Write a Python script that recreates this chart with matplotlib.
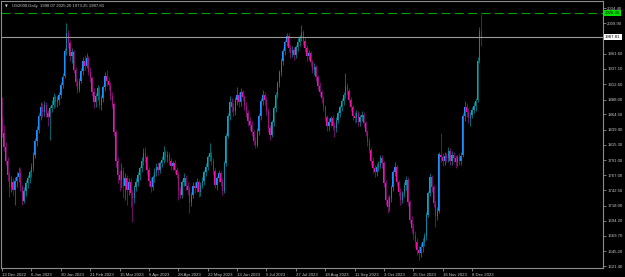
import matplotlib
matplotlib.use("Agg")
import matplotlib.pyplot as plt
from matplotlib.transforms import blended_transform_factory
import numpy as np

# daily US2000 candles, 13 Dec 2022 .. 15 Dec 2023
opens = [
    1860, 1834, 1812, 1790, 1768, 1748, 1756, 1744, 1758, 1764,
    1770, 1748, 1726, 1742, 1754, 1762, 1772, 1780, 1800, 1822,
    1840, 1862, 1876, 1868, 1880, 1866, 1860, 1874, 1880, 1892,
    1884, 1888, 1896, 1912, 1926, 1966, 1994, 1978, 1958, 1964,
    1936, 1916, 1904, 1918, 1934, 1950, 1942, 1954, 1932, 1922,
    1900, 1884, 1894, 1906, 1880, 1890, 1908, 1926, 1918, 1912,
    1894, 1880, 1836, 1790, 1768, 1760, 1774, 1750, 1762, 1744,
    1756, 1738, 1730, 1748, 1756, 1768, 1778, 1790, 1802, 1796,
    1776, 1758, 1748, 1764, 1772, 1780, 1776, 1786, 1792, 1804,
    1796, 1800, 1790, 1782, 1786, 1776, 1768, 1742, 1736, 1756,
    1762, 1750, 1744, 1724, 1736, 1750, 1746, 1756, 1740, 1752,
    1758, 1772, 1780, 1796, 1802, 1790, 1774, 1752, 1762, 1770,
    1756, 1742, 1786, 1830, 1862, 1884, 1876, 1870, 1888, 1896,
    1884, 1900, 1892, 1878, 1866, 1854, 1848, 1836, 1822, 1816,
    1838, 1862, 1886, 1896, 1888, 1870, 1842, 1832, 1852, 1874,
    1896, 1914, 1932, 1950, 1966, 1980, 1990, 1970, 1962, 1968,
    1960, 1972, 1980, 1988, 1996, 1982, 1970, 1958, 1962, 1948,
    1936, 1940, 1924, 1910, 1900, 1890, 1876, 1860, 1846, 1852,
    1858, 1846, 1842, 1856, 1866, 1876, 1886, 1896, 1910, 1902,
    1888, 1876, 1862, 1858, 1866, 1852, 1860, 1864, 1850, 1836,
    1820, 1808, 1790, 1778, 1772, 1780, 1784, 1794, 1786, 1754,
    1728, 1716, 1730, 1748, 1772, 1780, 1756, 1740, 1728, 1738,
    1752, 1760, 1724, 1696, 1682, 1672, 1660, 1648, 1642, 1652,
    1660, 1670, 1704, 1738, 1764, 1748, 1722, 1702, 1710, 1800,
    1796, 1790, 1798, 1794, 1806, 1790, 1800, 1794, 1788, 1796,
    1790, 1800, 1862, 1876, 1868, 1858, 1864, 1872, 1878, 1888,
    1950, 1998.07,
]
highs = [
    1892, 1848, 1820, 1796, 1774, 1766, 1762, 1764, 1772, 1780,
    1778, 1752, 1748, 1760, 1768, 1776, 1786, 1804, 1826, 1846,
    1866, 1884, 1882, 1886, 1884, 1872, 1878, 1888, 1898, 1896,
    1894, 1900, 1916, 1930, 1970, 2010, 2000, 1984, 1970, 1968,
    1940, 1922, 1922, 1938, 1956, 1960, 1962, 1958, 1940, 1926,
    1906, 1898, 1912, 1910, 1896, 1912, 1932, 1935, 1924, 1916,
    1900, 1884, 1840, 1796, 1776, 1786, 1780, 1770, 1768, 1762,
    1762, 1744, 1752, 1762, 1772, 1782, 1796, 1810, 1812, 1800,
    1780, 1764, 1768, 1778, 1786, 1788, 1790, 1798, 1814, 1808,
    1806, 1804, 1794, 1790, 1792, 1780, 1772, 1748, 1760, 1770,
    1768, 1756, 1750, 1740, 1756, 1756, 1762, 1760, 1756, 1764,
    1776, 1786, 1800, 1818, 1806, 1794, 1778, 1766, 1776, 1774,
    1762, 1790, 1834, 1866, 1894, 1890, 1882, 1892, 1908, 1900,
    1906, 1904, 1896, 1884, 1872, 1860, 1854, 1840, 1828, 1842,
    1866, 1890, 1903, 1900, 1892, 1874, 1848, 1856, 1878, 1900,
    1918, 1936, 1954, 1970, 1984, 1994, 1994, 1976, 1974, 1972,
    1976, 1986, 1992, 2007, 2000, 1988, 1976, 1968, 1966, 1952,
    1946, 1944, 1928, 1916, 1904, 1894, 1880, 1864, 1858, 1862,
    1864, 1852, 1860, 1870, 1880, 1890, 1900, 1930, 1914, 1906,
    1892, 1880, 1868, 1872, 1870, 1864, 1870, 1868, 1854, 1840,
    1826, 1812, 1796, 1784, 1786, 1790, 1800, 1800, 1790, 1760,
    1734, 1736, 1752, 1776, 1788, 1784, 1760, 1746, 1742, 1756,
    1766, 1764, 1728, 1702, 1690, 1678, 1666, 1654, 1658, 1666,
    1674, 1708, 1742, 1770, 1768, 1752, 1728, 1716, 1804, 1834,
    1802, 1804, 1802, 1812, 1810, 1806, 1804, 1800, 1800, 1802,
    1804, 1866, 1886, 1882, 1874, 1868, 1876, 1884, 1890, 1956,
    2004, 2025.20,
]
lows = [
    1828, 1806, 1784, 1758, 1732, 1740, 1736, 1719, 1748, 1756,
    1742, 1720, 1722, 1734, 1746, 1754, 1764, 1774, 1794, 1814,
    1834, 1856, 1860, 1862, 1860, 1846, 1823, 1868, 1874, 1876,
    1876, 1880, 1890, 1906, 1922, 1960, 1970, 1950, 1946, 1930,
    1910, 1898, 1900, 1914, 1928, 1936, 1938, 1928, 1916, 1894,
    1874, 1876, 1888, 1874, 1872, 1884, 1902, 1910, 1904, 1888,
    1874, 1830, 1780, 1754, 1742, 1746, 1730, 1728, 1720, 1736,
    1716, 1692, 1722, 1742, 1750, 1760, 1772, 1784, 1788, 1768,
    1750, 1740, 1744, 1756, 1766, 1768, 1770, 1780, 1786, 1790,
    1788, 1784, 1776, 1776, 1770, 1762, 1727, 1730, 1730, 1750,
    1744, 1736, 1706, 1718, 1730, 1738, 1740, 1732, 1734, 1746,
    1752, 1766, 1776, 1790, 1784, 1768, 1746, 1744, 1756, 1750,
    1736, 1738, 1782, 1826, 1856, 1868, 1862, 1864, 1880, 1876,
    1878, 1886, 1872, 1860, 1846, 1840, 1830, 1816, 1810, 1812,
    1832, 1856, 1880, 1880, 1864, 1836, 1823, 1828, 1846, 1868,
    1890, 1908, 1926, 1944, 1960, 1974, 1964, 1954, 1956, 1952,
    1954, 1966, 1974, 1982, 1976, 1964, 1950, 1952, 1942, 1930,
    1928, 1918, 1904, 1894, 1882, 1870, 1854, 1838, 1838, 1846,
    1840, 1828, 1836, 1850, 1860, 1870, 1880, 1890, 1896, 1882,
    1870, 1856, 1850, 1852, 1846, 1846, 1854, 1844, 1830, 1814,
    1802, 1784, 1770, 1764, 1766, 1774, 1778, 1778, 1748, 1720,
    1706, 1710, 1724, 1742, 1766, 1750, 1734, 1720, 1722, 1732,
    1744, 1718, 1690, 1674, 1664, 1652, 1640, 1631, 1636, 1644,
    1654, 1664, 1700, 1734, 1740, 1716, 1684, 1696, 1706, 1788,
    1782, 1784, 1788, 1788, 1784, 1784, 1788, 1778, 1782, 1784,
    1784, 1796, 1854, 1860, 1850, 1846, 1858, 1866, 1870, 1884,
    1946, 1973.25,
]
closes = [
    1836, 1812, 1790, 1768, 1748, 1756, 1744, 1758, 1764, 1770,
    1748, 1726, 1742, 1754, 1762, 1772, 1780, 1800, 1822, 1840,
    1862, 1876, 1868, 1880, 1866, 1860, 1874, 1880, 1892, 1884,
    1888, 1896, 1912, 1924, 1966, 1994, 1978, 1958, 1964, 1936,
    1916, 1904, 1918, 1934, 1950, 1942, 1954, 1932, 1922, 1900,
    1884, 1894, 1906, 1880, 1890, 1908, 1926, 1918, 1912, 1894,
    1880, 1836, 1790, 1768, 1760, 1774, 1750, 1762, 1744, 1756,
    1738, 1730, 1748, 1756, 1768, 1778, 1790, 1802, 1796, 1776,
    1758, 1748, 1764, 1772, 1780, 1776, 1786, 1792, 1804, 1796,
    1800, 1790, 1782, 1786, 1776, 1768, 1742, 1736, 1756, 1762,
    1750, 1744, 1724, 1736, 1750, 1746, 1756, 1740, 1752, 1758,
    1772, 1780, 1796, 1802, 1790, 1774, 1752, 1762, 1770, 1756,
    1742, 1786, 1830, 1862, 1884, 1876, 1870, 1888, 1896, 1884,
    1900, 1892, 1878, 1866, 1854, 1848, 1836, 1822, 1816, 1838,
    1862, 1886, 1896, 1888, 1870, 1842, 1832, 1852, 1874, 1896,
    1914, 1932, 1950, 1966, 1980, 1990, 1970, 1962, 1968, 1960,
    1972, 1980, 1988, 1996, 1982, 1970, 1958, 1962, 1948, 1936,
    1940, 1924, 1910, 1900, 1890, 1876, 1860, 1846, 1852, 1858,
    1846, 1842, 1856, 1866, 1876, 1886, 1896, 1910, 1902, 1888,
    1876, 1862, 1858, 1866, 1852, 1860, 1864, 1850, 1836, 1820,
    1808, 1790, 1778, 1772, 1780, 1784, 1794, 1786, 1754, 1728,
    1716, 1730, 1748, 1772, 1780, 1756, 1740, 1728, 1738, 1752,
    1760, 1724, 1696, 1682, 1672, 1660, 1648, 1642, 1652, 1660,
    1670, 1704, 1738, 1764, 1748, 1722, 1702, 1710, 1800, 1796,
    1790, 1798, 1794, 1806, 1790, 1800, 1794, 1788, 1796, 1790,
    1798, 1862, 1876, 1868, 1858, 1864, 1872, 1878, 1886, 1950,
    1998, 1987.81,
]

date_labels = ["13 Dec 2022", "6 Jan 2023", "30 Jan 2023", "21 Feb 2023",
               "15 Mar 2023", "6 Apr 2023", "28 Apr 2023", "22 May 2023",
               "13 Jun 2023", "5 Jul 2023", "27 Jul 2023", "18 Aug 2023",
               "11 Sep 2023", "3 Oct 2023", "25 Oct 2023", "16 Nov 2023",
               "8 Dec 2023"]
date_step = 16

price_ticks = [2034.40, 2009.90, 1961.60, 1937.10, 1912.60, 1888.00, 1864.50,
               1839.90, 1815.30, 1791.00, 1767.00, 1742.50, 1718.00, 1694.20,
               1669.70, 1645.20, 1621.40]

level_line = 2026.35
symbol = "US2000,Daily"

# colours
bg = "black"
fg = "#c8c8c8"
frame = "#8c8c8c"
bull_body, bear_body = "#1e8fff", "#ee14a6"
bull_wick, bear_wick = "#00858c", "#8c1080"

font = ["Liberation Sans", "DejaVu Sans"]
fs = 3.1

W, H = 625, 277
fig = plt.figure(figsize=(W / 100, H / 100), dpi=100, facecolor=bg)
ax = fig.add_axes([1 / W, 9 / H, 602 / W, 267 / H])
ax.set_facecolor(bg)

o = np.array(opens, dtype=float)
h = np.array(highs, dtype=float)
l = np.array(lows, dtype=float)
c = np.array(closes, dtype=float)
x = np.arange(len(c))
up = c >= o

ax.vlines(x, l, h, colors=np.where(up, bull_wick, bear_wick), linewidth=0.55)
body = np.maximum(np.abs(c - o), 1.0)
ax.bar(x, body, bottom=np.minimum(o, c), width=0.72,
       color=np.where(up, bull_body, bear_body), linewidth=0)

# horizontal lines: green level and bid
ax.axhline(level_line, color="#00a400", lw=0.8, linestyle=(0, (8, 4)))
ax.axhline(closes[-1], color="#9a9a9a", lw=0.8)

ax.set_xlim(-0.6, 327.3)
ax.set_ylim(1618.4, 2045.6)

for s in ax.spines.values():
    s.set_color(frame)
    s.set_linewidth(0.8)

# x axis dates
ax.set_xticks(np.arange(len(date_labels)) * date_step)
ax.set_xticklabels(date_labels, fontsize=fs, color=fg, family=font, ha="left")
ax.tick_params(axis="x", length=2, width=0.6, color=frame, pad=1.5)

# y axis prices on the right
ax.yaxis.tick_right()
ax.set_yticks(price_ticks)
ax.set_yticklabels([f"{p:.2f}" for p in price_ticks], fontsize=fs, color=fg,
                   family=font)
ax.tick_params(axis="y", length=2, width=0.6, color=frame, pad=1.0)

# price boxes on the axis
tr = blended_transform_factory(ax.transAxes, ax.transData)
ax.text(1.0035, level_line, f"{level_line:.2f}", transform=tr, fontsize=fs,
        family=font, color="black", va="center", ha="left",
        bbox=dict(boxstyle="square,pad=0.25", fc="#00e000", ec="none"))
ax.text(1.0035, closes[-1], f"{closes[-1]:.2f}", transform=tr, fontsize=fs,
        family=font, color="black", va="center", ha="left",
        bbox=dict(boxstyle="square,pad=0.25", fc="white", ec="none"))

# header with last bar OHLC
head = f"{symbol}  {opens[-1]:.2f} {highs[-1]:.2f} {lows[-1]:.2f} {closes[-1]:.2f}"
ax.text(0.006, 0.986, "\u25bc", transform=ax.transAxes, fontsize=2.6,
        color=fg, va="top", ha="left", family=["DejaVu Sans"])
ax.text(0.019, 0.989, head, transform=ax.transAxes, fontsize=fs,
        color=fg, va="top", ha="left", family=font)

fig.savefig("out.png", dpi=100, facecolor=bg)
